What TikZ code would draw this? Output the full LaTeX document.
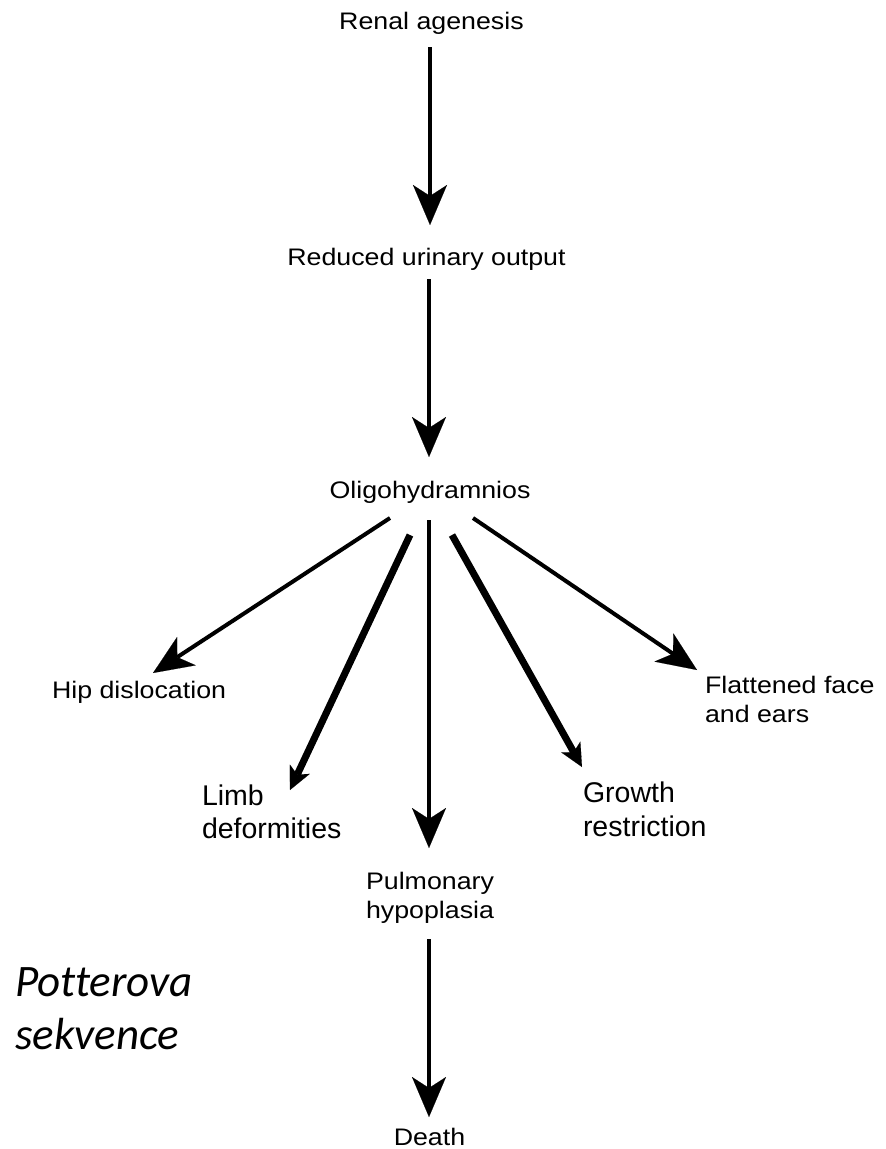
\documentclass[tikz,border=0pt]{standalone}
\usepackage{fontspec}
\setmainfont{Liberation Sans}
\newfontfamily\smallf[FakeStretch=1.12]{Liberation Sans}
\newfontfamily\largef{Liberation Sans}
\newfontfamily\calib[Ligatures=NoCommon]{Carlito}
\usetikzlibrary{arrows.meta,calc}
\begin{document}
\begin{tikzpicture}[x=1pt,y=-1pt,
  sm/.style={inner sep=0pt,outer sep=0pt,text=black,font=\smallf\fontsize{23.9}{29.5}\selectfont},
  lg/.style={inner sep=0pt,outer sep=0pt,text=black,font=\largef\fontsize{28.5}{33.5}\selectfont},
  cal/.style={inner sep=0pt,outer sep=0pt,text=black,font=\calib\itshape\fontsize{45}{53}\selectfont},
  arr/.style={line width=4pt,draw=black,-{Stealth[length=40pt,width=34pt,inset=11pt,line width=0.1pt]}},
  thickarr/.style={line width=7pt,draw=black,-{Stealth[length=23pt,width=22pt,inset=6pt,line width=0.1pt]}}]
\fill[white] (0,0) rectangle (886,1149);
\useasboundingbox (0,0) rectangle (886,1149);

\node[sm,anchor=base] (ren) at (431.5,29.3) {Renal agenesis};
\node[sm,anchor=base] (red) at (426.5,265) {Reduced urinary output};
\node[sm,anchor=base] (oli) at (430,498) {Oligohydramnios};
\node[sm,anchor=base west] (hip) at (52,698) {Hip dislocation};
\node[sm,anchor=north west,align=left] (fla) at (705,676) {Flattened face\\and ears};
\node[lg,anchor=north west,align=left] (lim) at (202,784.6) {Limb\\deformities};
\node[lg,anchor=north west,align=left] (gro) at (583,782) {Growth\\restriction};
\node[sm,anchor=north,align=center] (pul) at (430,872) {Pulmonary\\hypoplasia};
\node[sm,anchor=base] (dea) at (429.5,1145) {Death};
\node[cal,anchor=north west,align=left] (pot) at (15,968) {Potterova\\sekvence};

\draw[arr] ($(ren.base)+(-1.5,17.7)$) -- ($(red.base)+(3.5,-40)$);
\draw[arr] ($(red.base)+(2.5,14)$) -- ($(oli.base)+(-1,-41)$);
\draw[arr] ($(oli.base)+(-40,20)$) -- ($(hip.base west)+(101,-25)$);
\draw[thickarr] ($(oli.base)+(-20,37)$) -- ($(lim.north west)+(88,5.4)$);
\draw[arr] ($(oli.base)+(-1,22)$) -- ($(pul.north)+(-1,-24)$);
\draw[thickarr] ($(oli.base)+(22,37)$) -- ($(gro.north west)+(-1,-15)$);
\draw[arr] ($(oli.base)+(43,20)$) -- ($(fla.north west)+(-8,-6)$);
\draw[arr] ($(pul.north)+(-1,67)$) -- ($(dea.base)+(-0.5,-28)$);
\end{tikzpicture}
\end{document}
